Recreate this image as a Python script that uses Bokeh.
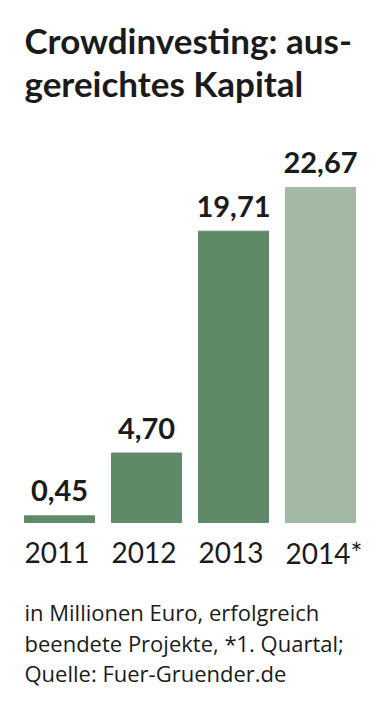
from bokeh.plotting import figure
from bokeh.models import Range1d, ColumnDataSource
from bokeh.core.properties import value
from bokeh.embed import file_html
from bokeh.resources import INLINE

years = ["2011", "2012", "2013", "2014*"]
values = [0.45, 4.70, 19.71, 22.67]
value_labels = ["0,45", "4,70", "19,71", "22,67"]
bar_colors = ["#5f8a67", "#5f8a67", "#5f8a67", "#a4b9a3"]
title_lines = ["Crowdinvesting: aus-", "gereichtes Kapital"]
note_lines = ["in Millionen Euro, erfolgreich",
              "beendete Projekte, *1. Quartal;",
              "Quelle: Fuer-Gruender.de"]

W, H = 378, 715
BASE = 522.0   # baseline px from top
PPU = 14.78    # px per value unit
X0 = 59.0      # first bar centre px
PITCH = 87.0   # px between bars
BAR_W = 70.0 / PITCH

def xd(px):
    return (px - X0) / PITCH

def yd(py):
    return (BASE - py) / PPU

FONT = "Lato"
INK = "#1b1b1b"

p = figure(width=W, height=H, output_backend="svg", toolbar_location=None,
           x_range=Range1d(xd(0), xd(W)), y_range=Range1d(yd(H), yd(0)),
           min_border=0, outline_line_color=None)
p.axis.visible = False
p.grid.visible = False
p.background_fill_color = "white"
p.border_fill_color = "white"

idx = list(range(len(years)))
src = ColumnDataSource(dict(x=idx, top=values, color=bar_colors,
                            lab=value_labels, year=years,
                            left=[i - BAR_W / 2 for i in idx],
                            ybase=[0] * len(idx)))

p.vbar(x="x", top="top", bottom=0, width=BAR_W, color="color", source=src)

p.text(x="x", y="top", text="lab", source=src, text_align="center",
       text_baseline="alphabetic", y_offset=-25,
       text_font=value(FONT), text_font_style="bold",
       text_font_size="29px", text_color=INK)

p.text(x="left", y="ybase", text="year", source=src, text_align="left",
       text_baseline="alphabetic", y_offset=30,
       text_font=value(FONT), text_font_size="28px", text_color=INK)

p.text(x=[xd(24)] * 2, y=[yd(39), yd(82)], text=title_lines,
       text_align="left", text_baseline="alphabetic",
       text_font=value(FONT), text_font_style="bold",
       text_font_size="35px", text_color=INK)

p.text(x=[xd(24)] * 3, y=[yd(611), yd(642), yd(672)], text=note_lines,
       text_align="left", text_baseline="alphabetic",
       text_font=value("Open Sans"), text_font_size="22px", text_color=INK)

open("out.html", "w").write(file_html(p, INLINE))
